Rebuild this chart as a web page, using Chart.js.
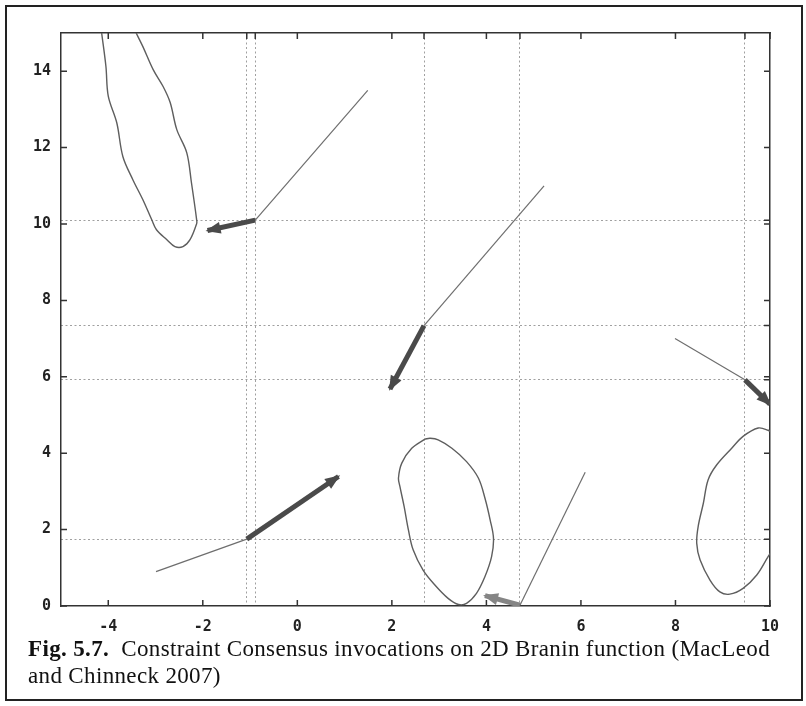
<!DOCTYPE html>
<html>
<head>
<meta charset="utf-8">
<script src="https://cdn.jsdelivr.net/npm/chart.js@4.4.0/dist/chart.umd.min.js"></script>
<style>
html, body { margin: 0; padding: 0; background: #fff; }
#wrap { position: relative; width: 806px; height: 706px; overflow: hidden; }
#frame { position: absolute; left: 5px; top: 5px; width: 798px; height: 696px; border: 2px solid #222; box-sizing: border-box; }
#chart { position: absolute; left: 0; top: 0; }
#caption { position: absolute; left: 28px; top: 636px; font-family: "Liberation Serif", "Times New Roman", serif; font-size: 23px; letter-spacing: 0.35px; line-height: 26.5px; color: #111; white-space: pre; }
</style>
</head>
<body>
<div id="wrap">
  <div id="frame"></div>
  <canvas id="chart" width="806" height="706"></canvas>
  <div id="caption"><b>Fig. 5.7.</b>  Constraint Consensus invocations on 2D Branin function (MacLeod
and Chinneck 2007)</div>
</div>
<script>
// axis ticks
var xTicks = [-4, -2, 0, 2, 4, 6, 8, 10];
var yTicks = [0, 2, 4, 6, 8, 10, 12, 14];

// dotted guide lines (iteration points)
var gridX = [-1.07, -0.89, 2.68, 4.71, 9.47];
var gridY = [1.75, 5.92, 7.34, 10.10];

// Branin contours
var contourLeft = [[-4.14, 15.0], [-4.05, 14.13], [-4.0, 13.35], [-3.82, 12.65], [-3.69, 11.76], [-3.48, 11.16],
  [-3.27, 10.64], [-3.08, 10.11], [-2.98, 9.85], [-2.76, 9.59], [-2.59, 9.41], [-2.42, 9.41], [-2.27, 9.59],
  [-2.13, 10.01], [-2.13, 10.11], [-2.24, 11.08], [-2.34, 11.87], [-2.55, 12.47], [-2.69, 13.18],
  [-2.84, 13.6], [-3.05, 14.04], [-3.27, 14.65], [-3.41, 15.0]];
var contourMid = [[2.70, 4.37], [2.81, 4.39], [2.98, 4.35], [3.27, 4.13], [3.58, 3.78], [3.83, 3.35], [3.97, 2.82],
  [4.08, 2.25], [4.15, 1.77], [4.11, 1.29], [3.97, 0.77], [3.79, 0.33], [3.58, 0.07], [3.41, 0.04], [3.19, 0.20],
  [2.91, 0.55], [2.66, 0.94], [2.45, 1.47], [2.35, 1.99], [2.26, 2.60], [2.17, 3.13], [2.14, 3.35], [2.21, 3.74],
  [2.42, 4.13], [2.70, 4.37]];
var contourRight = [[10.1, 1.55], [9.96, 1.29], [9.72, 0.81], [9.43, 0.46], [9.15, 0.31], [8.94, 0.37], [8.73, 0.68],
  [8.52, 1.21], [8.45, 1.64], [8.48, 2.08], [8.59, 2.69], [8.69, 3.30], [8.87, 3.69], [9.19, 4.13], [9.43, 4.44],
  [9.75, 4.66], [9.96, 4.6], [10.1, 4.5]];

// trajectories: thin segment then consensus step (arrow)
var pathA = [[1.49, 13.50], [-0.89, 10.10]];
var stepA = [[-0.89, 10.10], [-1.90, 9.83]];
var pathB = [[-2.99, 0.90], [-1.07, 1.75]];
var stepB = [[-1.07, 1.75], [0.87, 3.39]];
var pathC = [[5.22, 11.0], [2.68, 7.34]];
var stepC = [[2.68, 7.34], [1.96, 5.68]];
var pathD = [[7.99, 7.0], [9.47, 5.92]];
var stepD = [[9.47, 5.92], [10.0, 5.28]];
var pathE = [[6.09, 3.50], [4.71, 0.02]];
var stepE = [[4.71, 0.02], [3.97, 0.27]];

function toPts(a) {
    return a.map(function(p) { return {x: p[0], y: p[1]}; });
}
function curve(a, color, width, arrow, smooth) {
    return {
        data: toPts(a),
        showLine: true,
        borderColor: color,
        backgroundColor: color,
        borderWidth: width,
        pointRadius: 0,
        tension: smooth ? 0.35 : 0,
        fill: false,
        arrow: !!arrow
    };
}

var tickFont = {family: 'DejaVu Sans Mono', weight: 'bold', size: 15};

// gnuplot style ticks pointing inside the box
var inwardTicks = {
    id: 'inwardTicks',
    afterDraw: function(chart) {
        var c = chart.ctx, a = chart.chartArea, s = chart.scales, len = 6;
        c.save();
        c.strokeStyle = '#333';
        c.lineWidth = 1.5;
        c.beginPath();
        s.x.ticks.forEach(function(t) {
            var px = s.x.getPixelForValue(t.value);
            c.moveTo(px, a.bottom); c.lineTo(px, a.bottom - len);
            c.moveTo(px, a.top); c.lineTo(px, a.top + len);
        });
        s.x2.ticks.forEach(function(t) {
            var px = s.x2.getPixelForValue(t.value);
            c.moveTo(px, a.top); c.lineTo(px, a.top + len);
        });
        s.y.ticks.forEach(function(t) {
            var py = s.y.getPixelForValue(t.value);
            c.moveTo(a.left, py); c.lineTo(a.left + len, py);
            c.moveTo(a.right, py); c.lineTo(a.right - len, py);
        });
        s.y2.ticks.forEach(function(t) {
            var py = s.y2.getPixelForValue(t.value);
            c.moveTo(a.right, py); c.lineTo(a.right - len, py);
        });
        c.stroke();
        c.restore();
    }
};

var arrowHeads = {
    id: 'arrowHeads',
    afterDatasetsDraw: function(chart) {
        var c = chart.ctx, a = chart.chartArea;
        c.save();
        c.beginPath();
        c.rect(a.left, a.top, a.right - a.left, a.bottom - a.top);
        c.clip();
        chart.data.datasets.forEach(function(ds, i) {
            if (!ds.arrow) return;
            var pts = chart.getDatasetMeta(i).data;
            var p0 = pts[pts.length - 2], p1 = pts[pts.length - 1];
            var ang = Math.atan2(p1.y - p0.y, p1.x - p0.x);
            var L = 13, W = 6;
            var bx = p1.x - L * Math.cos(ang), by = p1.y - L * Math.sin(ang);
            c.fillStyle = ds.borderColor;
            c.beginPath();
            c.moveTo(p1.x + 2 * Math.cos(ang), p1.y + 2 * Math.sin(ang));
            c.lineTo(bx + W * Math.sin(ang), by - W * Math.cos(ang));
            c.lineTo(bx - W * Math.sin(ang), by + W * Math.cos(ang));
            c.closePath();
            c.fill();
        });
        c.restore();
    }
};

var ctx = document.getElementById('chart').getContext('2d');
var chart = new Chart(ctx, {
    type: 'scatter',
    data: {
        datasets: [
            curve(contourLeft, '#5e5e5e', 1.4, false, true),
            curve(contourMid, '#5e5e5e', 1.4, false, true),
            curve(contourRight, '#5e5e5e', 1.4, false, true),
            curve(pathA, '#6e6e6e', 1.2),
            curve(stepA, '#4a4a4a', 5, true),
            curve(pathB, '#6e6e6e', 1.2),
            curve(stepB, '#4a4a4a', 5, true),
            curve(pathC, '#6e6e6e', 1.2),
            curve(stepC, '#4a4a4a', 5, true),
            curve(pathD, '#6e6e6e', 1.2),
            curve(stepD, '#4a4a4a', 5, true),
            curve(pathE, '#6e6e6e', 1.2),
            curve(stepE, '#858585', 5, true)
        ]
    },
    options: {
        responsive: false,
        animation: false,
        layout: {padding: 0},
        plugins: {legend: {display: false}, tooltip: {enabled: false}},
        scales: {
            x: {
                type: 'linear', position: 'bottom', min: -5, max: 10,
                afterBuildTicks: function(s) { s.ticks = xTicks.map(function(v) { return {value: v}; }); },
                afterFit: function(s) { s.height = 100; },
                grid: {display: false, drawTicks: false},
                border: {display: true, color: '#333', width: 1.5},
                ticks: {padding: 12, font: tickFont, color: '#222', maxRotation: 0, autoSkip: false}
            },
            x2: {
                type: 'linear', position: 'top', min: -5, max: 10,
                afterBuildTicks: function(s) { s.ticks = gridX.map(function(v) { return {value: v}; }); },
                afterFit: function(s) { s.height = 33; },
                grid: {display: true, drawTicks: false, color: '#a0a0a0', lineWidth: 1},
                border: {display: true, color: '#333', width: 1.5, dash: [2, 2.5]},
                ticks: {display: false}
            },
            y: {
                type: 'linear', position: 'left', min: 0, max: 15,
                afterBuildTicks: function(s) { s.ticks = yTicks.map(function(v) { return {value: v}; }); },
                afterFit: function(s) { s.width = 61; },
                grid: {display: false, drawTicks: false},
                border: {display: true, color: '#333', width: 1.5},
                ticks: {padding: 10, font: tickFont, color: '#222', autoSkip: false}
            },
            y2: {
                type: 'linear', position: 'right', min: 0, max: 15,
                afterBuildTicks: function(s) { s.ticks = gridY.map(function(v) { return {value: v}; }); },
                afterFit: function(s) { s.width = 36; },
                grid: {display: true, drawTicks: false, color: '#a0a0a0', lineWidth: 1},
                border: {display: true, color: '#333', width: 1.5, dash: [2, 2.5]},
                ticks: {display: false}
            }
        }
    },
    plugins: [inwardTicks, arrowHeads]
});
</script>
</body>
</html>
